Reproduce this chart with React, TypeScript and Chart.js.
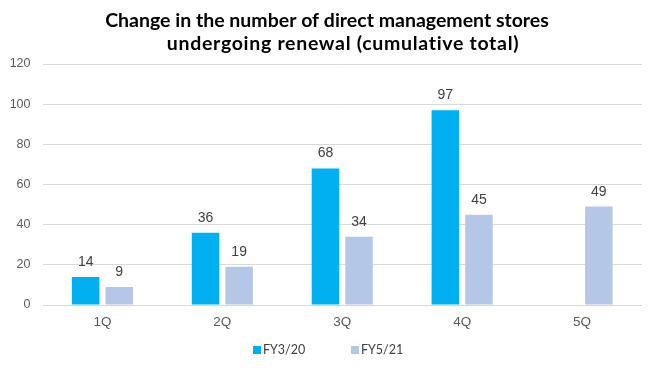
import React, { useEffect, useRef } from "react";
import { Chart, registerables } from "chart.js";

Chart.register(...registerables);

const categories = ["1Q", "2Q", "3Q", "4Q", "5Q"];
const seriesNames = ["FY3/20", "FY5/21"];
const seriesColors = ["#00B0F0", "#B4C7E7"];
const fy320 = [14, 36, 68, 97, null];
const fy521 = [9, 19, 34, 45, 49];
const titleLines = ["Change in the number of direct management stores", "undergoing renewal (cumulative total)"];
const yTicks = { min: 0, max: 120, step: 20 };

const titlePlugin = {
  id: "customTitle",
  afterDraw(chart: any) {
    const ctx = chart.ctx;
    ctx.save();
    ctx.fillStyle = "#000000";
    ctx.font = "bold 19.5px Lato";
    ctx.textAlign = "center";
    ctx.textBaseline = "middle";
    ctx.fillText(titleLines[0], 327, 21);
    (ctx as any).letterSpacing = "0.7px";
    ctx.fillText(titleLines[1], 343, 44);
    ctx.restore();
  },
};

const legendPlugin = {
  id: "customLegend",
  afterDraw(chart: any) {
    const ctx = chart.ctx;
    ctx.save();
    ctx.font = "12.5px Lato";
    ctx.textAlign = "left";
    ctx.textBaseline = "middle";
    const starts = [253, 351];
    chart.data.datasets.forEach((ds: any, i: number) => {
      const x = starts[i];
      const y = 350;
      ctx.fillStyle = ds.backgroundColor;
      ctx.fillRect(x, y - 4, 8, 8);
      ctx.fillStyle = "#404040";
      ctx.fillText(ds.label, x + 10, y);
    });
    ctx.restore();
  },
};

const labelPlugin = {
  id: "dataLabels",
  afterDatasetsDraw(chart: any) {
    const ctx = chart.ctx;
    ctx.save();
    ctx.fillStyle = "#404040";
    ctx.font = "14px 'Liberation Sans'";
    ctx.textAlign = "center";
    ctx.textBaseline = "alphabetic";
    chart.data.datasets.forEach((ds: any, di: number) => {
      const meta = chart.getDatasetMeta(di);
      meta.data.forEach((bar: any, i: number) => {
        const v = ds.data[i];
        if (v === null || v === undefined) return;
        ctx.fillText(String(v), bar.x, bar.y - 11);
      });
    });
    ctx.restore();
  },
};

export default function App() {
  const ref = useRef<HTMLCanvasElement | null>(null);
  useEffect(() => {
    if (!ref.current) return;
    const chart = new Chart(ref.current, {
      type: "bar",
      data: {
        labels: categories,
        datasets: [
          { label: seriesNames[0], data: fy320, backgroundColor: seriesColors[0], borderWidth: 0 },
          { label: seriesNames[1], data: fy521, backgroundColor: seriesColors[1], borderWidth: 0 },
        ],
      },
      options: {
        animation: false,
        responsive: false,
        maintainAspectRatio: false,
        layout: { padding: { left: 0, right: 11, top: 64, bottom: 42 } },
        datasets: { bar: { categoryPercentage: 0.56, barPercentage: 0.82 } },
        plugins: {
          title: { display: false },
          tooltip: { enabled: false },
          legend: { display: false },
        },
        scales: {
          x: {
            grid: { display: false, drawTicks: false },
            border: { display: false },
            ticks: { color: "#595959", font: { family: "'Liberation Sans'", size: 13.5 }, padding: 9 },
            afterFit: (s: any) => {
              s.height = 25;
            },
          },
          y: {
            min: yTicks.min,
            max: yTicks.max,
            grid: { color: "#D9D9D9", lineWidth: 1, drawTicks: false },
            border: { display: false },
            ticks: {
              stepSize: yTicks.step,
              color: "#595959",
              font: { family: "'Liberation Sans'", size: 12.5 },
              padding: 12,
            },
            afterFit: (s: any) => {
              s.width = 42.5;
            },
          },
        },
      },
      plugins: [titlePlugin, labelPlugin, legendPlugin],
    });
    return () => chart.destroy();
  }, []);
  return (
    <div style={{ position: "fixed", left: 0, top: 0, width: 653, height: 372, background: "#fff" }}>
      <canvas ref={ref} width={653} height={372} />
    </div>
  );
}
